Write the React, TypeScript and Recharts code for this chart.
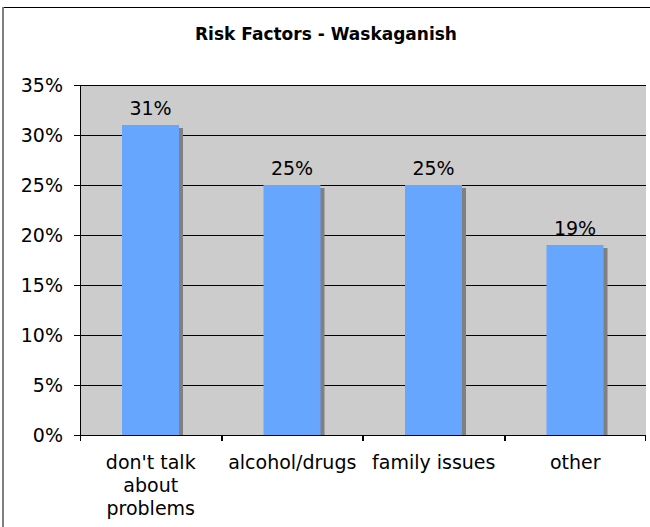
import React from "react";
import {
  BarChart,
  Bar,
  XAxis,
  YAxis,
  CartesianGrid,
  LabelList,
} from "recharts";

const categories = ["don't talk\nabout\nproblems", "alcohol/drugs", "family issues", "other"];
const values = [31, 25, 25, 19];
const yTicks = [0, 5, 10, 15, 20, 25, 30, 35];
const title = "Risk Factors - Waskaganish";

const data = categories.map((c, i) => ({ name: c, value: values[i] }));

const FONT = "'DejaVu Sans', Verdana, sans-serif";

const ShadowBar = (props: any) => {
  const { x, y, width, height } = props;
  if (height <= 0) return null;
  return (
    <g>
      <rect x={x + 4} y={y + 3} width={width} height={height - 3} fill="#808080" />
      <rect x={x} y={y} width={width} height={height} fill="#66A6FF" />
    </g>
  );
};

const CatTick = (props: any) => {
  const { x, y, payload, width, visibleTicksCount } = props;
  const lines = String(payload.value).split("\n");
  const band = width / (visibleTicksCount || 4);
  const xl = Math.round(x - band / 2) + 0.5;
  const xr = Math.round(x + band / 2) - 0.5;
  return (
    <g>
      <line x1={xl} y1={y} x2={xl} y2={y + 6} stroke="#000" />
      <line x1={xr} y1={y} x2={xr} y2={y + 6} stroke="#000" />
      <text
        x={x}
        y={y}
        textAnchor="middle"
        fontFamily={FONT}
        fontSize={19}
        fill="#000"
      >
        {lines.map((l, i) => (
          <tspan key={i} x={x} dy={i === 0 ? 33.5 : 23}>
            {l}
          </tspan>
        ))}
      </text>
    </g>
  );
};

export default function App() {
  return (
    <div style={{ position: "absolute", left: 0, top: 0, width: 650, height: 527, background: "#fff" }}>
      <style>{`.recharts-surface line { shape-rendering: crispEdges; }`}</style>
      <BarChart
        width={650}
        height={527}
        data={data}
        margin={{ top: 85, right: 4, left: 0, bottom: 0 }}
        barSize={57}
      >
        <line x1={3} y1={7.5} x2={650} y2={7.5} stroke="#000" strokeWidth={1.5} />
        <line x1={3} y1={7} x2={3} y2={527} stroke="#808080" strokeWidth={2} />
        <text
          x={326}
          y={40}
          textAnchor="middle"
          fontFamily={FONT}
          fontSize={17}
          fontWeight="bold"
          fill="#000"
        >
          {title}
        </text>
        <CartesianGrid
          vertical={false}
          stroke="#000"
          fill="#CCCCCC"
          fillOpacity={1}
          yAxisId="l"
        />
        <XAxis
          xAxisId="c"
          dataKey="name"
          tick={<CatTick />}
          tickLine={false}
          tickSize={0}
          tickMargin={0}
          axisLine={{ stroke: "#000" }}
          height={92}
          interval={0}
        />
        <XAxis
          xAxisId="t"
          orientation="top"
          type="number"
          domain={[0, 4]}
          tick={false}
          tickLine={false}
          axisLine={{ stroke: "#808080" }}
          height={0}
        />
        <YAxis
          yAxisId="l"
          domain={[0, 35]}
          ticks={yTicks}
          tickFormatter={(v: number) => `${v}%`}
          width={80}
          tickSize={6}
          tickLine={{ stroke: "#000" }}
          axisLine={{ stroke: "#000" }}
          tick={{ fontFamily: FONT, fontSize: 19, fill: "#000", dx: -9 }}
          interval={0}
        />
        <YAxis
          yAxisId="r"
          orientation="right"
          domain={[0, 35]}
          tick={false}
          tickLine={false}
          axisLine={{ stroke: "#808080" }}
          width={0}
        />
        <Bar
          dataKey="value"
          xAxisId="c"
          yAxisId="l"
          shape={<ShadowBar />}
          isAnimationActive={false}
        >
          <LabelList
            dataKey="value"
            position="top"
            offset={10}
            formatter={(v: number) => `${v}%`}
            style={{ fontFamily: FONT, fontSize: 19, fill: "#000" }}
          />
        </Bar>
      </BarChart>
    </div>
  );
}
